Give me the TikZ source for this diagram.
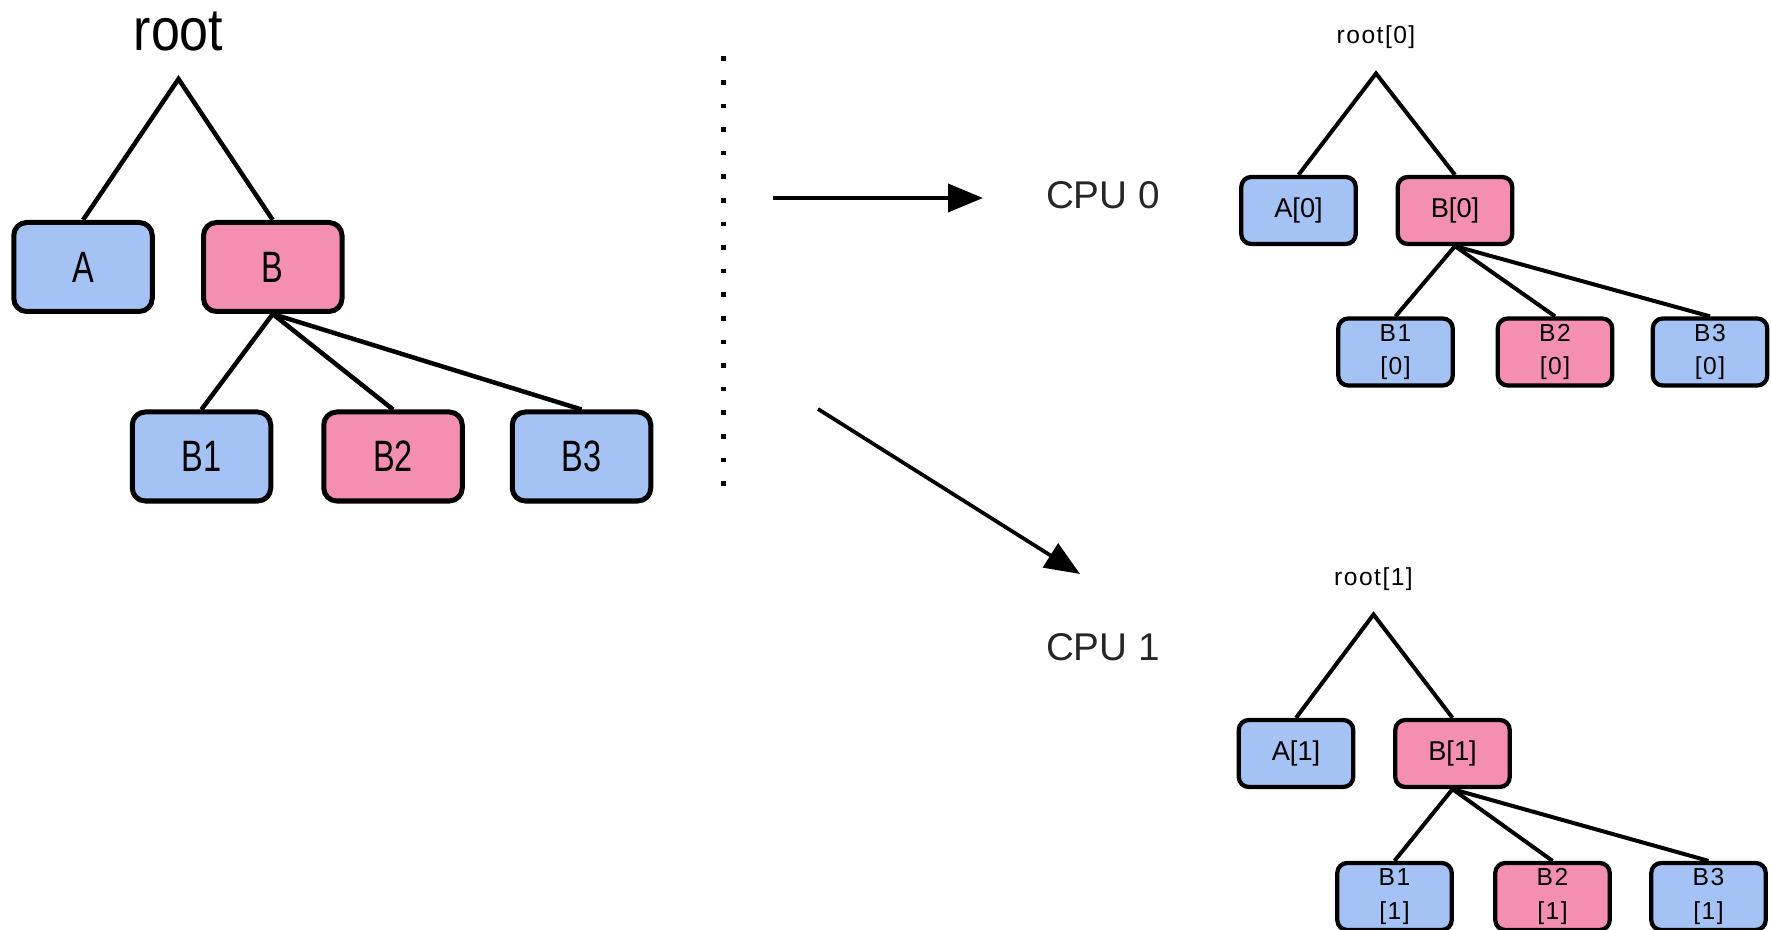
\documentclass[tikz,border=0pt]{standalone}
\usepackage{fontspec}
\setmainfont{Liberation Sans}
\newfontfamily\rootfont[FakeStretch=0.87]{Liberation Sans}
\newfontfamily\boxfont[FakeStretch=0.74]{Liberation Sans}
\newfontfamily\smallfont[LetterSpace=6]{Liberation Sans}
\usepackage{tikz}
\usetikzlibrary{arrows.meta}
\definecolor{nodeblue}{RGB}{164,194,244}
\definecolor{nodepink}{RGB}{244,143,177}
\tikzset{
  bigbox/.style={draw,shape=rectangle,rounded corners=0.26cm,line width=0.1cm,
    minimum width=2.77cm,minimum height=1.78cm,font=\boxfont\fontsize{25}{26}\selectfont},
  smallbox/.style={draw,shape=rectangle,rounded corners=0.2cm,line width=0.085cm,
    minimum width=2.29cm,minimum height=1.34cm,inner sep=0pt,align=center,
    font=\smallfont\fontsize{14}{19}\selectfont},
  blue/.style={fill=nodeblue},
  pink/.style={fill=nodepink},
  branch/.style={line width=0.09cm},
  twig/.style={line width=0.08cm},
}

\begin{document}
\begin{tikzpicture}[>={Triangle[length=0.7cm,width=0.56cm]}]
\useasboundingbox (0,0) rectangle (35.42,-18.6);
% original tree
\node [font=\rootfont\fontsize{34}{36}\selectfont] (root) at (3.57,-0.62) {root};
\coordinate (top) at (3.57,-1.58);
\node [bigbox,blue] (a) at (1.66,-5.34) {A};
\node [bigbox,pink] (b) at (5.455,-5.34) {B};
\node [bigbox,blue] (b1) at (4.03,-9.13) {B1};
\node [bigbox,pink] (b2) at (7.86,-9.13) {B2};
\node [bigbox,blue] (b3) at (11.63,-9.13) {B3};
\draw [branch] (a.north) -- (top) -- (b.north);
\draw [branch] (b.south) -- (b1.north);
\draw [branch] (b.south) -- (b2.north);
\draw [branch] (b.south) -- (b3.north);
% separator
\draw [line width=0.1cm, dash pattern=on 0.09cm off 0.382cm] (14.46,-1.13) -- (14.46,-9.75);
% split
\coordinate (from0) at (15.46,-3.96);
\coordinate (to0) at (19.66,-3.96);
\coordinate (from1) at (16.36,-8.18);
\coordinate (to1) at (21.6,-11.48);
\draw [->, line width=0.075cm] (from0) -- (to0);
\draw [->, line width=0.075cm] (from1) -- (to1);
\node [font=\fontsize{22}{24}\selectfont, text=black!85] (cpu0) at (22.06,-3.9) {CPU 0};
\node [font=\fontsize{22}{24}\selectfont, text=black!85] (cpu1) at (22.06,-12.94) {CPU 1};
% copy on CPU 0
\node [font=\smallfont\fontsize{14}{15}\selectfont] (root0) at (27.52,-0.75) {root[0]};
\coordinate (top0) at (27.52,-1.47);
\node [smallbox,blue,font=\fontsize{15.5}{17}\selectfont] (a0) at (25.97,-4.21) {A[0]};
\node [smallbox,pink,font=\fontsize{15.5}{17}\selectfont] (b0) at (29.1,-4.21) {B[0]};
\node [smallbox,blue] (b10) at (27.91,-7.04) {B1\\{[0]}};
\node [smallbox,pink] (b20) at (31.1,-7.04) {B2\\{[0]}};
\node [smallbox,blue] (b30) at (34.2,-7.04) {B3\\{[0]}};
\draw [twig] (a0.north) -- (top0) -- (b0.north);
\draw [twig] (b0.south) -- (b10.north);
\draw [twig] (b0.south) -- (b20.north);
\draw [twig] (b0.south) -- (b30.north);
% copy on CPU 1
\node [font=\smallfont\fontsize{14}{15}\selectfont] (root1) at (27.47,-11.59) {root[1]};
\coordinate (top1) at (27.47,-12.29);
\node [smallbox,blue,font=\fontsize{15.5}{17}\selectfont] (a1) at (25.92,-15.07) {A[1]};
\node [smallbox,pink,font=\fontsize{15.5}{17}\selectfont] (b1x) at (29.05,-15.07) {B[1]};
\node [smallbox,blue] (b11) at (27.89,-17.93) {B1\\{[1]}};
\node [smallbox,pink] (b21) at (31.05,-17.93) {B2\\{[1]}};
\node [smallbox,blue] (b31) at (34.17,-17.93) {B3\\{[1]}};
\draw [twig] (a1.north) -- (top1) -- (b1x.north);
\draw [twig] (b1x.south) -- (b11.north);
\draw [twig] (b1x.south) -- (b21.north);
\draw [twig] (b1x.south) -- (b31.north);
\end{tikzpicture}
\end{document}
